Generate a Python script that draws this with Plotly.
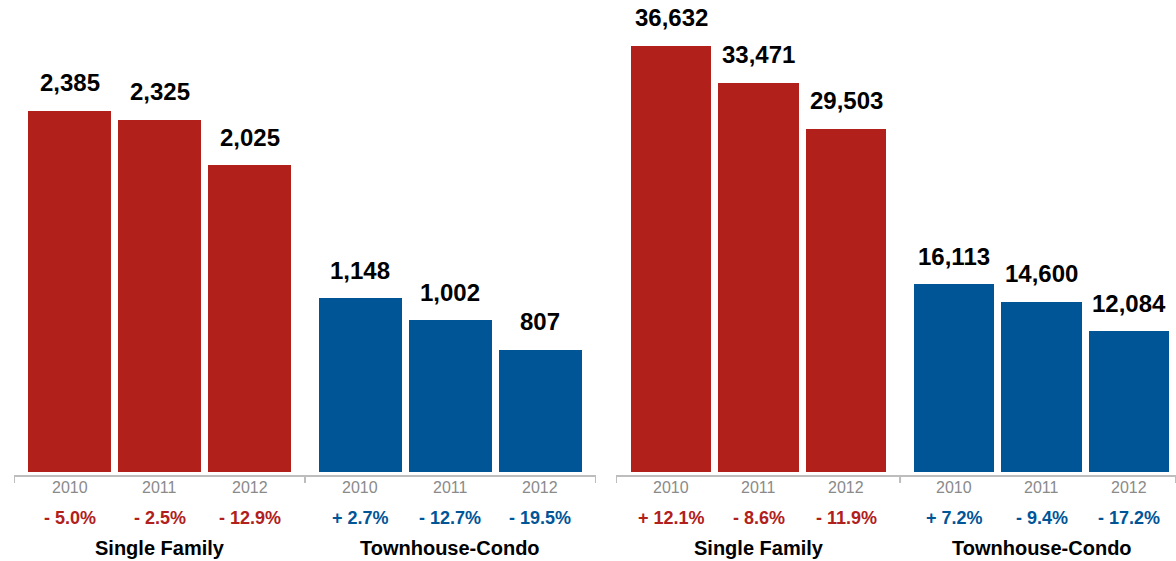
import plotly.graph_objects as go

# ---------------- data ----------------
years = ["2010", "2011", "2012"]
groups = ["Single Family", "Townhouse-Condo"]

left_single_family = [2385, 2325, 2025]
left_townhouse = [1148, 1002, 807]
left_single_family_pct = ["- 5.0%", "- 2.5%", "- 12.9%"]
left_townhouse_pct = ["+ 2.7%", "- 12.7%", "- 19.5%"]

right_single_family = [36632, 33471, 29503]
right_townhouse = [16113, 14600, 12084]
right_single_family_pct = ["+ 12.1%", "- 8.6%", "- 11.9%"]
right_townhouse_pct = ["+ 7.2%", "- 9.4%", "- 17.2%"]

# ---------------- style ----------------
RED = "#B1201B"
BLUE = "#005597"
AXIS = "#BDBDBD"
FONT = "Liberation Sans"
W, H = 1176, 561
GROUP_OFFSET = 3.233
BAR_W = 0.92


def py(px):
    return (H - px) / H


panels = [
    dict(xa="x", ya="y", xname="xaxis", yname="yaxis",
         series=[left_single_family, left_townhouse],
         pct=[left_single_family_pct, left_townhouse_pct],
         xdom=(14 / W, 596 / W), xr=(-0.617, 5.85), yr=(-22, 3118)),
    dict(xa="x2", ya="y2", xname="xaxis2", yname="yaxis2",
         series=[right_single_family, right_townhouse],
         pct=[right_single_family_pct, right_townhouse_pct],
         xdom=(616 / W, 1.0), xr=(-0.63, 5.77), yr=(-290, 40588)),
]

colors = [RED, BLUE]
fig = go.Figure()
annotations = []
shapes = []
layout = {}

for p in panels:
    for g, (vals, pcts) in enumerate(zip(p["series"], p["pct"])):
        xs = [g * GROUP_OFFSET + i for i in range(len(vals))]
        fig.add_trace(go.Bar(
            x=xs, y=vals, width=BAR_W, marker=dict(color=colors[g], line=dict(width=0)),
            xaxis=p["xa"], yaxis=p["ya"], showlegend=False, hoverinfo="skip"))
        for x, v, t, yr in zip(xs, vals, pcts, years):
            annotations.append(dict(
                x=x, y=v, xref=p["xa"], yref=p["ya"], text=f"{v:,}", showarrow=False,
                yshift=28, yanchor="middle",
                font=dict(family=FONT, size=24, color="#000000", weight="bold")))
            annotations.append(dict(
                x=x, y=py(487), xref=p["xa"], yref="paper", text=yr, showarrow=False,
                yanchor="middle",
                font=dict(family=FONT, size=16, color="#8A8A8A")))
            annotations.append(dict(
                x=x, y=py(518), xref=p["xa"], yref="paper", text=t, showarrow=False,
                yanchor="middle",
                font=dict(family=FONT, size=18, color=colors[g], weight="bold")))
        annotations.append(dict(
            x=g * GROUP_OFFSET + 1, y=py(548), xref=p["xa"], yref="paper",
            text=groups[g], showarrow=False, yanchor="middle",
            font=dict(family=FONT, size=20, color="#000000", weight="bold")))
    # tick marks: ends and between groups
    mid = (2 + GROUP_OFFSET) / 2
    for tx in [p["xr"][0], mid, p["xr"][1]]:
        shapes.append(dict(type="line", xref=p["xa"], yref="paper",
                           x0=tx, x1=tx, y0=py(475), y1=py(483),
                           line=dict(color=AXIS, width=2)))
    layout[p["xname"]] = dict(
        domain=list(p["xdom"]), range=list(p["xr"]), anchor=p["ya"],
        showline=True, linecolor=AXIS, linewidth=2, showgrid=False, zeroline=False,
        showticklabels=False, ticks="", fixedrange=True)
    layout[p["yname"]] = dict(
        domain=[py(475), 1], range=list(p["yr"]), anchor=p["xa"], visible=False,
        showgrid=False, zeroline=False, fixedrange=True)

fig.update_layout(
    width=W, height=H, margin=dict(l=0, r=0, t=0, b=0),
    paper_bgcolor="white", plot_bgcolor="white",
    annotations=annotations, shapes=shapes, bargap=0,
    **layout)

fig.write_html("out.html", config=dict(displayModeBar=False),
               post_script="document.body.style.margin='0';document.body.style.overflow='hidden';")
